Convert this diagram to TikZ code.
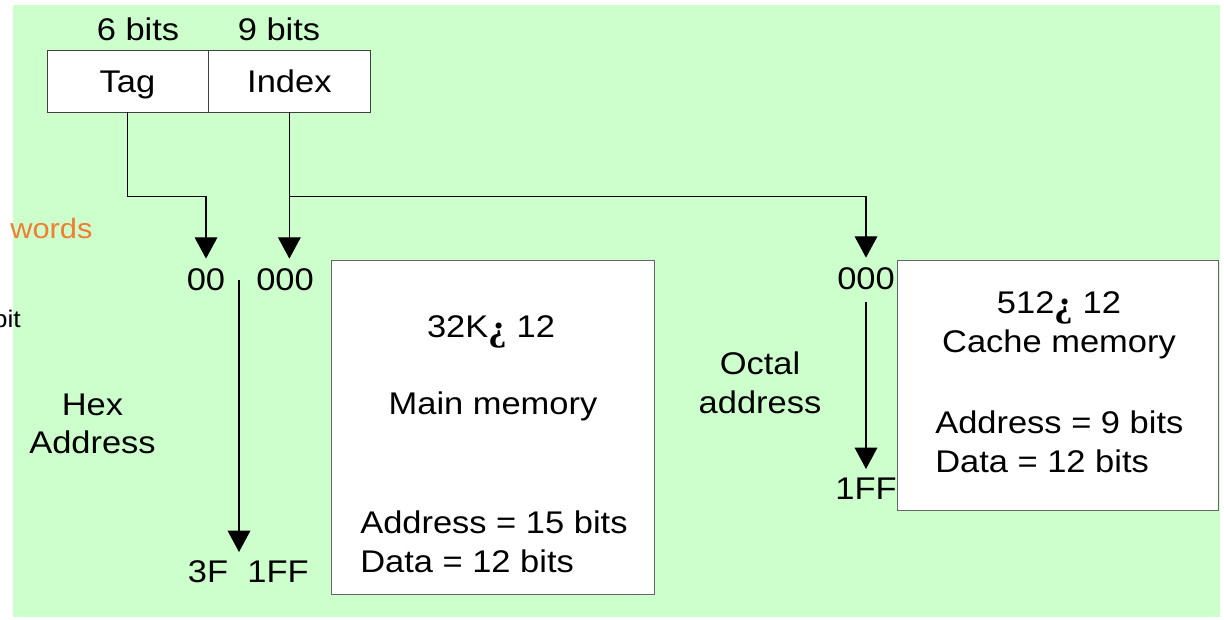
\documentclass[tikz,border=0pt]{standalone}
\usepackage{fontspec}
\setmainfont{Liberation Sans}[FakeStretch=1.1]
\newfontfamily\signfont{Liberation Serif}
\usetikzlibrary{arrows.meta, positioning}

\definecolor{bggreen}{RGB}{204,255,204}
\definecolor{wordorange}{RGB}{240,125,50}
% the odd sign between the sizes
\newcommand{\bysign}{{\signfont\bfseries\fontsize{28}{29}\selectfont\raisebox{-2.5pt}{¿}}}

\begin{document}
\begin{tikzpicture}[x=0.75pt, y=-0.75pt, >={Triangle[width=17pt,length=16pt]},
  every node/.style={font=\fontsize{23.5}{29}\selectfont, inner sep=0pt},
  field/.style={draw=black!75, fill=white, minimum width=121pt, minimum height=46.5pt,
    text height=16.5pt, text depth=0pt},
  memory/.style={draw=black!60, fill=white},
  link/.style={->, line width=0.9pt, shorten >=7.5pt}]

  \useasboundingbox (0,0) rectangle (1224,619);
  \fill[bggreen] (13,5) rectangle (1220,617);

% define the address fields
  \node[field] (tag) at (127.5,81) {Tag};
  \node[field, right=0pt of tag] (index) {Index};
  \node (tagbits) at (138,29) {6 bits};
  \node (indexbits) at (279,29) {9 bits};

% define the memories
  \node[memory, minimum width=242.25pt, minimum height=250.5pt] (main) at (492.5,427) {};
  \node[memory, minimum width=240.75pt, minimum height=187.5pt] (cache) at (1057.5,385) {};

  \node[text height=16.5pt, text depth=0pt] (mainsize) at (491,326) {32K\bysign{} 12};
  \node (mainname) at (493,406) {Main memory};
  \node[align=left, anchor=west] (mainspec) at (360,542) {Address = 15 bits\\Data = 12 bits};
  \node[align=center] (cachename) at (1059,325) {512\bysign{} 12\\Cache memory};
  \node[align=left, anchor=west] (cachespec) at (935,442) {Address = 9 bits\\Data = 12 bits};

% define the address labels
  \node (tagtop) at (206,280) {00};
  \node (idxtop) at (285,280) {000};
  \node (tagend) at (208,572) {3F};
  \node (idxend) at (278,572) {1FF};
  \node (ctop) at (866,279) {000};
  \node (cend) at (866,489) {1FF};
  \node[align=center] (hex) at (92.5,424) {Hex\\Address};
  \node[align=center] (octal) at (760,383) {Octal\\address};

  \node[text=wordorange, font=\fontsize{21}{25}\selectfont, anchor=west] (words) at (10,228) {words};
  \node[font=\fontsize{18}{22}\selectfont, anchor=east] (bit) at (21,319) {bit};

  \coordinate (mainfrom) at (239,280);
  \coordinate (mainto) at (239,552);

% define the links
  \draw[link] (tag.south) -- ++(0,84) -| (tagtop.north);
  \draw[link] (index.south) -- (index.south |- idxtop.north);
  \draw[link] (index.south) -- ++(0,84) -| (ctop.north);
  \draw[link, shorten >=0pt] (mainfrom) -- (mainto);
  \draw[link, shorten <=9pt, shorten >=6.75pt] (ctop.south) -- (cend.north);

\end{tikzpicture}
\end{document}
